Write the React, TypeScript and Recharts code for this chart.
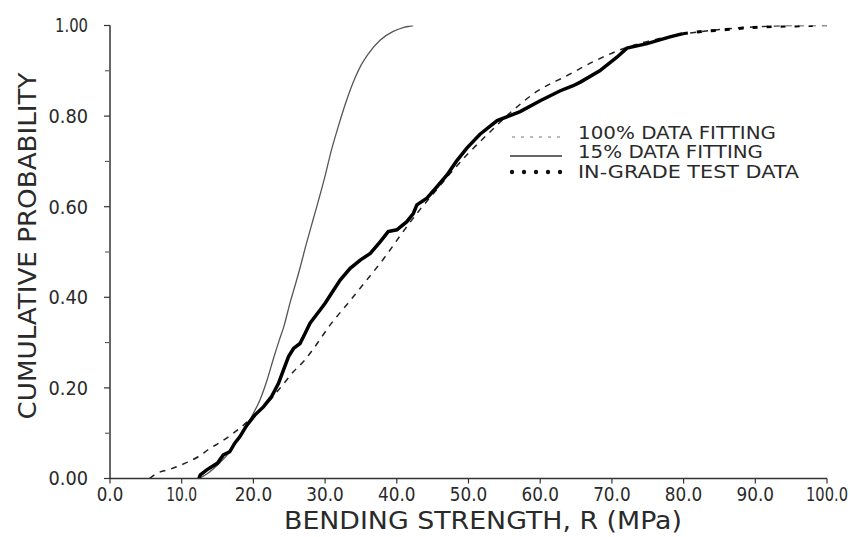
import React from 'react';
import { LineChart, Line, XAxis, YAxis, Legend } from 'recharts';

// ---- tick values ----
const xTicks = [0, 10, 20, 30, 40, 50, 60, 70, 80, 90, 100];
const yTicks = [0, 0.2, 0.4, 0.6, 0.8, 1.0];
const yMinorTicks = [0.1, 0.3, 0.5, 0.7, 0.9];

// ---- series: [R (MPa), cumulative probability] ----
const fit100: [number, number][] = [
  [5.5, 0], [6.5, 0.011], [8.5, 0.021], [10.5, 0.034], [12.3, 0.048], [13.9, 0.066],
  [15.6, 0.082], [17.2, 0.1], [18.1, 0.111], [20, 0.138], [22, 0.168], [24, 0.205],
  [25.6, 0.236], [27.2, 0.262], [28.4, 0.287], [30.9, 0.343], [33.2, 0.387], [35.8, 0.438],
  [38.4, 0.49], [40.7, 0.541], [43.2, 0.593], [45, 0.627], [47, 0.665], [50, 0.718],
  [53, 0.765], [56, 0.81], [59.7, 0.856], [63.7, 0.889], [67.4, 0.92], [71.1, 0.946],
  [75, 0.965], [80, 0.981], [85, 0.991], [90, 0.997], [95, 1.0], [100, 1.0],
];

const fit15: [number, number][] = [
  [12.4, 0], [13.5, 0.01], [15, 0.03], [16.5, 0.055], [18, 0.09], [19, 0.115], [20, 0.144],
  [20.9, 0.173], [21.9, 0.217], [22.8, 0.265], [23.6, 0.305], [24.2, 0.333], [25.1, 0.387],
  [26.3, 0.453], [27.4, 0.519], [28.3, 0.57], [29.1, 0.615], [30, 0.668], [30.8, 0.72],
  [31.8, 0.775], [33, 0.835], [34.2, 0.885], [35, 0.912], [36, 0.937], [37.7, 0.968],
  [39.5, 0.987], [41, 0.996], [42.3, 1.0],
];

const testData: [number, number][] = [
  [12.4, 0], [12.6, 0.008], [13.5, 0.019], [15, 0.034], [15.8, 0.052], [16.7, 0.059],
  [17.4, 0.078], [18.1, 0.092], [19.1, 0.118], [20.2, 0.14], [21.4, 0.158], [22.5, 0.18],
  [23.5, 0.21], [24.2, 0.24], [24.9, 0.269], [25.6, 0.287], [26.5, 0.298], [27.2, 0.32],
  [27.9, 0.343], [29.3, 0.372], [30, 0.387], [30.9, 0.409], [32.1, 0.438], [33.5, 0.464],
  [34.9, 0.482], [36.3, 0.497], [37.7, 0.523], [38.8, 0.545], [40, 0.549], [41.4, 0.567],
  [42.3, 0.585], [42.8, 0.604], [44.2, 0.619], [45.6, 0.644], [47, 0.67], [48.3, 0.7],
  [49.8, 0.73], [51.6, 0.76], [54, 0.79], [57.2, 0.81], [60, 0.834], [62.8, 0.856],
  [64.6, 0.867], [65.6, 0.875], [68.3, 0.9], [70.7, 0.93], [72.1, 0.95], [74.9, 0.96],
  [78.1, 0.975], [79.9, 0.982],
];

const testDataTail: [number, number][] = [
  [79.9, 0.982], [82.7, 0.987], [86, 0.991], [88.8, 0.995], [92.5, 0.998], [98, 1.0],
];

const legendLabels = ['100% DATA FITTING', '15% DATA FITTING', 'IN-GRADE TEST DATA'];
const xTitle = 'BENDING STRENGTH, R (MPa)';
const yTitle = 'CUMULATIVE PROBABILITY';

const toRows = (arr: [number, number][]) => arr.map(([r, p]) => ({ r, p }));

const FONT = '"DejaVu Sans", sans-serif';
const INK = '#2a2a2a';

const widthOf = (s: string, digit: number, narrow: number) =>
  s.split('').reduce((a, c) => a + (c === '1' || c === '.' ? narrow : digit), 0);

const XTick = (props: any) => {
  const { x, y, payload } = props;
  const s = Number(payload.value).toFixed(1);
  return (
    <text x={x} y={y} dy="0.71em" textAnchor="middle" fontFamily={FONT} fontSize={19} fill={INK}
      textLength={widthOf(s, 11, 4.5)} lengthAdjust="spacingAndGlyphs">{s}</text>
  );
};

const YTick = (props: any) => {
  const { x, y, payload } = props;
  const s = Number(payload.value).toFixed(2);
  return (
    <text x={x} y={y} dy="0.36em" textAnchor="end" fontFamily={FONT} fontSize={19} fill={INK}
      textLength={widthOf(s, 11.5, 5)} lengthAdjust="spacingAndGlyphs">{s}</text>
  );
};

const EmptyTick = () => <g />;

const legendWidths = [198, 185, 221];
const legendRowY = [15, 34, 54];

const LegendBox = () => (
  <svg width={330} height={70} style={{ display: 'block' }}>
    <line x1={12} y1={legendRowY[0] + 4} x2={62} y2={legendRowY[0] + 4} stroke="#777" strokeWidth={1.2} strokeDasharray="3 6" />
    <line x1={10} y1={legendRowY[1] + 4} x2={62} y2={legendRowY[1] + 4} stroke="#333" strokeWidth={1.6} />
    {[0, 1, 2, 3, 4].map((i) => (
      <circle key={i} cx={12 + i * 12} cy={legendRowY[2]} r={2.2} fill="#111" />
    ))}
    {legendLabels.map((t, i) => (
      <text key={t} x={78} y={legendRowY[i]} dy="0.36em" fontFamily={FONT} fontSize={17} fill={INK}
        textLength={legendWidths[i]} lengthAdjust="spacingAndGlyphs">{t}</text>
    ))}
  </svg>
);

export default function App() {
  return (
    <div style={{ position: 'absolute', left: 0, top: 0, background: '#fff' }}>
      <LineChart width={850} height={537} margin={{ top: 25.5, right: 23, bottom: 57.5, left: 108 }}>
        <XAxis
          dataKey="r"
          type="number"
          domain={[0, 100]}
          ticks={xTicks}
          interval={0}
          height={1}
          tickSize={5}
          tickMargin={4}
          tick={<XTick />}
          axisLine={{ stroke: '#333', strokeWidth: 1.5 }}
          tickLine={{ stroke: '#333', strokeWidth: 1.2 }}
          allowDataOverflow
          label={{
            content: () => (
              <text x={483} y={529} textAnchor="middle" fontFamily={FONT} fontSize={25} fill={INK}
                textLength={398} lengthAdjust="spacingAndGlyphs">{xTitle}</text>
            ),
          }}
        />
        <YAxis
          type="number"
          domain={[0, 1]}
          ticks={yTicks}
          interval={0}
          width={1}
          tickSize={6}
          tickMargin={16}
          tick={<YTick />}
          axisLine={{ stroke: '#333', strokeWidth: 1.5 }}
          tickLine={{ stroke: '#333', strokeWidth: 1.2 }}
          allowDataOverflow
          label={{
            content: () => (
              <text x={27} y={246} transform="rotate(-90 27 246)" dy="0.36em" textAnchor="middle"
                fontFamily={FONT} fontSize={25} fill={INK} textLength={347} lengthAdjust="spacingAndGlyphs">{yTitle}</text>
            ),
          }}
        />
        <YAxis
          yAxisId="minor"
          type="number"
          domain={[0, 1]}
          ticks={yMinorTicks}
          interval={0}
          width={1}
          tickSize={4}
          tick={<EmptyTick />}
          axisLine={false}
          tickLine={{ stroke: '#444', strokeWidth: 1 }}
          allowDataOverflow
        />
        <Legend
          layout="horizontal"
          verticalAlign="middle"
          align="center"
          content={() => <LegendBox />}
          wrapperStyle={{ position: 'absolute', left: 500, top: 118, width: 330, height: 70 }}
        />
        <Line
          name={legendLabels[0]}
          data={toRows(fit100)}
          dataKey="p"
          type="monotone"
          stroke="#222"
          strokeWidth={1.5}
          strokeDasharray="6 6"
          dot={false}
          isAnimationActive={false}
        />
        <Line
          name={legendLabels[1]}
          data={toRows(fit15)}
          dataKey="p"
          type="monotone"
          stroke="#555"
          strokeWidth={1.3}
          dot={false}
          isAnimationActive={false}
        />
        <Line
          name={legendLabels[2]}
          data={toRows(testData)}
          dataKey="p"
          type="linear"
          stroke="#000"
          strokeWidth={3.5}
          dot={false}
          isAnimationActive={false}
        />
        <Line
          name="tail"
          legendType="none"
          data={toRows(testDataTail)}
          dataKey="p"
          type="linear"
          stroke="#000"
          strokeWidth={3}
          strokeDasharray="5 9"
          dot={false}
          isAnimationActive={false}
        />
      </LineChart>
    </div>
  );
}
